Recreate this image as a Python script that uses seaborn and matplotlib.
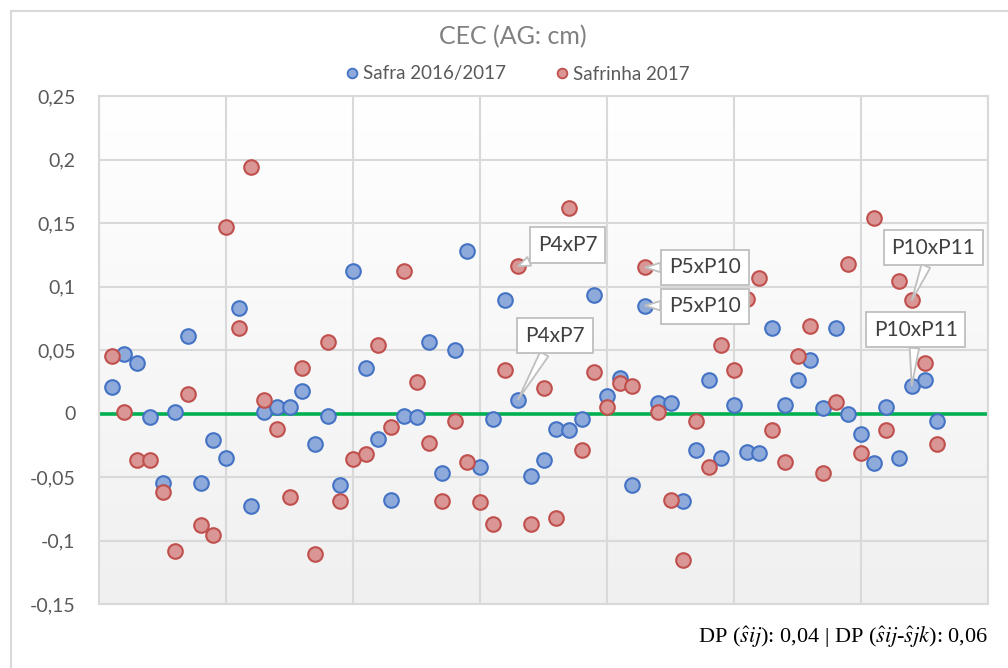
import numpy as np
import pandas as pd
import matplotlib
matplotlib.use("Agg")
import matplotlib.pyplot as plt
from matplotlib.colors import LinearSegmentedColormap
from matplotlib.lines import Line2D
from matplotlib.patches import Rectangle
import seaborn as sns

# Specific combining ability estimates (sij) for the 66 diallel crosses
cross = list(range(1, 67))

safra = [0.021, 0.047, 0.040, -0.003, -0.055, 0.001, 0.061, -0.055, -0.021, -0.035,
         0.083, -0.073, 0.001, 0.005, 0.005, 0.018, -0.024, -0.002, -0.056, 0.112,
         0.036, -0.020, -0.068, -0.002, -0.003, 0.056, -0.047, 0.050, 0.128, -0.042,
         -0.004, 0.089, 0.011, -0.049, -0.037, -0.012, -0.013, -0.004, 0.093, 0.014,
         0.028, -0.056, 0.085, 0.008, 0.008, -0.069, -0.029, 0.026, -0.035, 0.007,
         -0.030, -0.031, 0.067, 0.007, 0.026, 0.042, 0.004, 0.067, 0.000, -0.016,
         -0.039, 0.005, -0.035, 0.022, 0.026, -0.006]

safrinha = [0.045, 0.001, -0.037, -0.037, -0.062, -0.108, 0.015, -0.088, -0.096, 0.147,
            0.067, 0.194, 0.011, -0.012, -0.066, 0.036, -0.111, 0.056, -0.069, -0.036,
            -0.032, 0.054, -0.011, 0.112, 0.025, -0.023, -0.069, -0.006, -0.038, -0.070,
            -0.087, 0.034, 0.116, -0.087, 0.020, -0.082, 0.162, -0.029, 0.033, 0.005,
            0.024, 0.022, 0.115, 0.001, -0.068, -0.115, -0.006, -0.042, 0.054, 0.034,
            0.090, 0.107, -0.013, -0.038, 0.045, 0.069, -0.047, 0.009, 0.118, -0.031,
            0.154, -0.013, 0.104, 0.089, 0.040, -0.024]

series_names = ["Safra 2016/2017", "Safrinha 2017"]
y_ticks = [0.25, 0.2, 0.15, 0.1, 0.05, 0, -0.05, -0.1, -0.15]
y_tick_labels = ["0,25", "0,2", "0,15", "0,1", "0,05", "0", "-0,05", "-0,1", "-0,15"]

# Highlighted crosses: (cross index, label)
highlights = [(33, "P4xP7"), (43, "P5xP10"), (64, "P10xP11")]

df = pd.concat([
    pd.DataFrame({"cruzamento": cross, "sij": safra, "ambiente": series_names[0]}),
    pd.DataFrame({"cruzamento": cross, "sij": safrinha, "ambiente": series_names[1]}),
])

sns.set_theme(style="white")
plt.rcParams["font.family"] = ["Lato", "DejaVu Sans"]
plt.rcParams["mathtext.fontset"] = "stix"

face = {series_names[0]: "#8eaadb", series_names[1]: "#d99694"}
edge = {series_names[0]: "#4472c4", series_names[1]: "#c0504d"}

fig = plt.figure(figsize=(10.08, 6.68), dpi=100)
ax = fig.add_axes([99 / 1008, 1 - 604 / 668, (988 - 99) / 1008, (604 - 96) / 668])

# Soft vertical gradient behind the plot area
grad = LinearSegmentedColormap.from_list("bg", ["#f0f0f0", "#ffffff"])
ax.imshow(np.linspace(0, 1, 256).reshape(-1, 1), cmap=grad, extent=[0, 1, 0, 1],
          transform=ax.transAxes, aspect="auto", origin="lower", zorder=0)

ax.axhline(0, color="#00b050", lw=2.6, zorder=1.5)

for name in series_names:
    sns.scatterplot(data=df[df["ambiente"] == name], x="cruzamento", y="sij",
                    color=face[name], edgecolor=edge[name], linewidth=1.5,
                    s=110, ax=ax, legend=False, zorder=3)

ax.set_xlim(0, 70)
ax.set_ylim(-0.15, 0.25)
ax.set_xticks(np.arange(0, 71, 10))
ax.set_xticklabels([])
ax.set_yticks(y_ticks)
ax.set_yticklabels(y_tick_labels)
ax.tick_params(axis="both", length=0)
ax.tick_params(axis="y", pad=17, labelsize=14, labelcolor="#595959")
ax.set_xlabel("")
ax.set_ylabel("")
ax.grid(True, color="#d9d9d9", lw=1.5)
ax.set_axisbelow(True)
for sp in ax.spines.values():
    sp.set_color("#d9d9d9")
    sp.set_linewidth(1.5)

# Callout labels for selected crosses
label_pos = {
    ("P4xP7", 0): (35.9, 0.0614), ("P4xP7", 1): (36.9, 0.133),
    ("P5xP10", 0): (47.7, 0.0843), ("P5xP10", 1): (47.7, 0.115),
    ("P10xP11", 0): (64.3, 0.0661), ("P10xP11", 1): (65.7, 0.1307),
}
for idx, lab in highlights:
    for k, vals in enumerate([safra, safrinha]):
        ax.annotate(lab, xy=(idx, vals[idx - 1]), xytext=label_pos[(lab, k)],
                    textcoords="data", ha="center", va="center",
                    fontsize=15, color="#404040", zorder=5,
                    bbox=dict(boxstyle="square,pad=0.38", fc="white", ec="#bfbfbf", lw=1.3),
                    arrowprops=dict(arrowstyle="wedge,tail_width=0.45,shrink_factor=0.5",
                                    fc="white", ec="#bfbfbf", lw=1.3,
                                    shrinkA=0, shrinkB=0))

fig.text(513 / 1008, 1 - 37 / 668, "CEC (AG: cm)", ha="center", va="center",
         fontsize=18, color="#808080")

handles = [Line2D([], [], ls="none", marker="o", markersize=7, markerfacecolor=face[n],
                  markeredgecolor=edge[n], markeredgewidth=1.3, label=n)
           for n in series_names]
fig.legend(handles=handles, loc="center", bbox_to_anchor=(516 / 1008, 1 - 74 / 668),
           ncol=2, frameon=False, fontsize=13.5, handletextpad=0.1, columnspacing=2.5,
           handlelength=1.0, labelcolor="#595959")

fig.text(988 / 1008, 1 - 637 / 668,
         r"DP ($\hat{s}ij$): 0,04 | DP ($\hat{s}ij$-$\hat{s}jk$): 0,06",
         ha="right", va="center", fontsize=16, family="Liberation Serif", color="black")

# Chart area frame
fig.add_artist(Rectangle((11 / 1008, -0.1), 1.2, 1.1 - 11 / 668, transform=fig.transFigure,
                         fill=False, ec="#d9d9d9", lw=1.5))

fig.savefig("out.png", dpi=100)
